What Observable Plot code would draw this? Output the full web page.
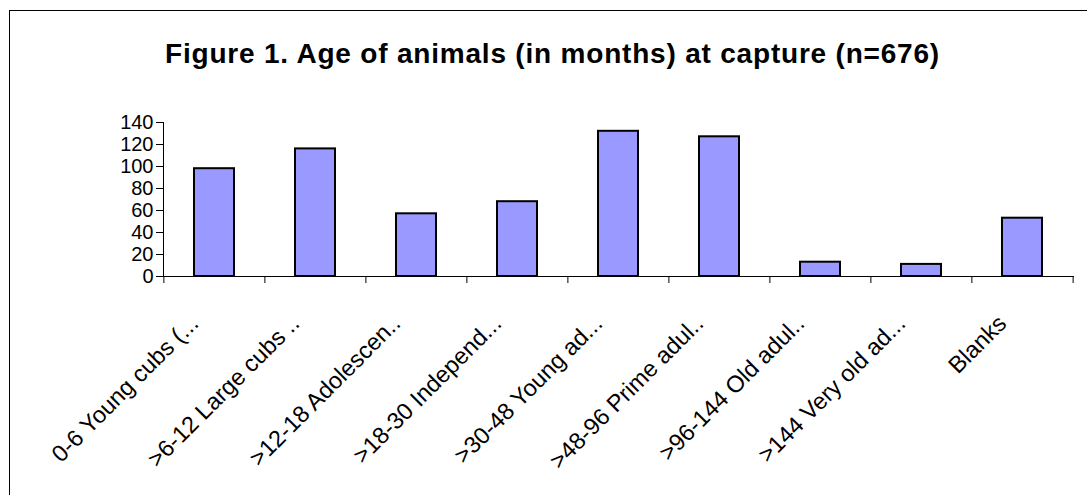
<!DOCTYPE html>
<html><head><meta charset="utf-8">
<script src="https://cdn.jsdelivr.net/npm/d3@7"></script>
<script src="https://cdn.jsdelivr.net/npm/@observablehq/plot@0.6"></script>
<style>
html,body{margin:0;padding:0;background:#fff;overflow:hidden;}
#wrap{position:relative;width:1087px;height:495px;overflow:hidden;font-family:Arial,"Liberation Sans",sans-serif;}
#frame{position:absolute;left:9px;top:10px;width:1200px;height:600px;border:1px solid #000;box-sizing:border-box;}
#title{position:absolute;left:9px;width:1087px;top:40px;text-align:center;font-weight:bold;font-size:28px;letter-spacing:0.8px;line-height:1;color:#000;white-space:nowrap;}
#chart{position:absolute;left:0;top:80px;}
</style></head><body>
<div id="wrap"><div id="frame"></div><div id="title">Figure 1. Age of animals (in months) at capture (n=676)</div><div id="chart"></div></div>
<script>
const categories = ["0-6 Young cubs (...", ">6-12 Large cubs ..", ">12-18 Adolescen..", ">18-30 Independ...", ">30-48 Young ad...", ">48-96 Prime adul..", ">96-144 Old adul..", ">144 Very old ad...", "Blanks"];
const counts = [98, 116, 57, 68, 132, 127, 13, 11, 53];
const yTicks = [0, 20, 40, 60, 80, 100, 120, 140];

const data = categories.map((c, i) => ({category: c, count: counts[i]}));
const W = 1087, H = 415, mL = 163, mR = 13;
const step = (W - mL - mR) / categories.length;

const chart = Plot.plot({
  width: W, height: H,
  marginTop: 42, marginBottom: 219, marginLeft: mL, marginRight: mR,
  style: {fontFamily: 'Arial, "Liberation Sans", sans-serif', color: "#000", background: "transparent", overflow: "visible"},
  x: {domain: categories, paddingInner: 0.6, paddingOuter: 0.3, axis: null},
  y: {domain: [0, 140], axis: null},
  marks: [
    Plot.barY(data, {x: "category", y: "count", fill: "#9999FF", stroke: "#000", strokeWidth: 2}),
    Plot.ruleY([0], {stroke: "#000"}),
    Plot.frame({anchor: "left", stroke: "#000"}),
    Plot.axisY({ticks: yTicks, tickSize: 7, tickPadding: 3, fontSize: 20, label: null, tickFormat: d => String(d)}),
    Plot.axisX(categories, {tickSize: 7, tickFormat: () => "", dx: -step / 2, label: null}),
    Plot.axisX([categories[categories.length - 1]], {tickSize: 7, tickFormat: () => "", dx: step / 2, label: null}),
    Plot.axisX({tickSize: 0, tickRotate: -45, tickPadding: 43, dx: -20, fontSize: 23.5, label: null})
  ]
});
document.getElementById("chart").appendChild(chart);
</script>
</body></html>
